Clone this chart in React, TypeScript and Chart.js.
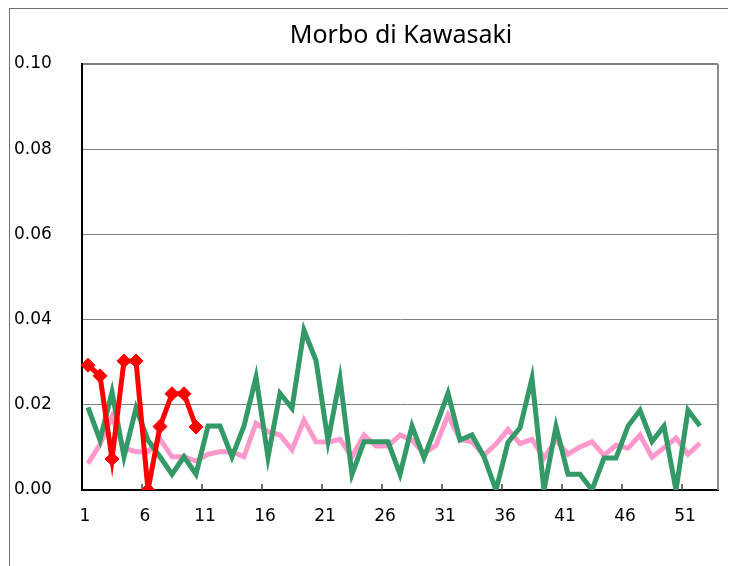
import React, { useEffect, useRef } from "react";
import { Chart, registerables } from "chart.js";

Chart.register(...registerables);

const TITLE = "Morbo di Kawasaki";
const WEEKS: string[] = Array.from({ length: 53 }, (_, i) => String(i + 1));
const Y_TICKS = [0, 0.02, 0.04, 0.06, 0.08, 0.1];

const CURRENT_SEASON: (number | null)[] = [
  0.0293, 0.0268, 0.0073, 0.0303, 0.0303, 0, 0.0149, 0.0226, 0.0226, 0.0148,
];

const PREV_SEASON: number[] = [
  0.0194, 0.0117, 0.023, 0.0078, 0.0192, 0.0117, 0.0078, 0.0037, 0.0078, 0.0037,
  0.015, 0.015, 0.0078, 0.015, 0.0265, 0.0077, 0.0227, 0.0192, 0.0375, 0.0304,
  0.0115, 0.0262, 0.0037, 0.0113, 0.0113, 0.0113, 0.0037, 0.015, 0.0076, 0.015,
  0.0227, 0.0117, 0.0129, 0.0078, 0, 0.0112, 0.0146, 0.0262, 0, 0.0149,
  0.0037, 0.0037, 0, 0.0075, 0.0075, 0.015, 0.0187, 0.0114, 0.015, 0,
  0.0187, 0.015,
];

const AVERAGE: number[] = [
  0.0062, 0.0107, 0.0172, 0.0098, 0.009, 0.009, 0.012, 0.0078, 0.0078, 0.0068,
  0.0084, 0.009, 0.009, 0.0078, 0.0157, 0.0137, 0.0129, 0.0094, 0.0164, 0.0113,
  0.0112, 0.0119, 0.0078, 0.0129, 0.0103, 0.0103, 0.0129, 0.0117, 0.0086, 0.0105,
  0.0176, 0.0119, 0.0113, 0.0082, 0.0108, 0.0142, 0.0109, 0.0119, 0.0075, 0.0117,
  0.0084, 0.0101, 0.0113, 0.0082, 0.0105, 0.0098, 0.0129, 0.0077, 0.0099, 0.0122,
  0.0084, 0.011,
];

const W = 778;
const H = 600;

const framePlugin = {
  id: "frame",
  beforeDatasetsDraw(chart: any) {
    const { ctx, chartArea } = chart;
    const x = chart.scales.x;
    ctx.save();
    ctx.strokeStyle = "#8c8c8c";
    ctx.lineWidth = 2;
    ctx.beginPath();
    ctx.moveTo(chartArea.right, chartArea.top);
    ctx.lineTo(chartArea.right, chartArea.bottom);
    ctx.stroke();
    ctx.strokeStyle = "#404040";
    ctx.lineWidth = 1.5;
    for (let k = 5; k < WEEKS.length; k += 5) {
      const px = Math.round(x.getPixelForValue(k - 0.5));
      ctx.beginPath();
      ctx.moveTo(px, chartArea.bottom);
      ctx.lineTo(px, chartArea.bottom - 6);
      ctx.stroke();
    }
    ctx.restore();
  },
};

export default function App() {
  const ref = useRef<HTMLCanvasElement | null>(null);

  useEffect(() => {
    if (!ref.current) return;
    const chart = new Chart(ref.current, {
      type: "line",
      data: {
        labels: WEEKS,
        datasets: [
          {
            label: "current",
            data: CURRENT_SEASON,
            borderColor: "#ff0000",
            backgroundColor: "#ff0000",
            borderWidth: 5,
            pointStyle: "rectRot",
            pointRadius: 7,
            pointBorderWidth: 1,
            tension: 0,
          },
          {
            label: "previous",
            data: PREV_SEASON,
            borderColor: "#339966",
            backgroundColor: "#339966",
            borderWidth: 5,
            pointRadius: 0,
            tension: 0,
          },
          {
            label: "average",
            data: AVERAGE,
            borderColor: "#ff99cc",
            backgroundColor: "#ff99cc",
            borderWidth: 5,
            pointRadius: 0,
            tension: 0,
          },
        ],
      },
      options: {
        responsive: false,
        animation: false,
        devicePixelRatio: 1,
        layout: { padding: { left: 4, right: 0, top: 0, bottom: 0 } },
        plugins: {
          legend: { display: false },
          tooltip: { enabled: false },
          title: {
            display: true,
            text: TITLE,
            color: "#000",
            font: { family: "Noto Sans", size: 25, weight: "normal" },
            padding: { top: 12, bottom: 13 },
          },
        },
        scales: {
          x: {
            type: "category",
            offset: true,
            grid: { display: false, drawTicks: false },
            border: { display: true, color: "#000", width: 2 },
            ticks: {
              autoSkip: false,
              maxRotation: 0,
              minRotation: 0,
              padding: 16,
              labelOffset: -3,
              color: "#000",
              font: { family: "DejaVu Sans", size: 17 },
              callback: (_v: any, i: number) => (i % 5 === 0 ? WEEKS[i] : ""),
            },
            afterFit: (s: any) => {
              s.height = H - 481;
            },
          },
          y: {
            min: 0,
            max: 0.1,
            afterBuildTicks: (s: any) => {
              s.ticks = Y_TICKS.map((v) => ({ value: v }));
            },
            grid: {
              drawTicks: false,
              color: (c: any) => (c.tick && c.tick.value === 0 ? "rgba(0,0,0,0)" : "#808080"),
              lineWidth: (c: any) => (c.tick && c.tick.value >= 0.1 ? 2 : 1),
            },
            border: { display: true, color: "#000", width: 2 },
            ticks: {
              crossAlign: "far",
              padding: 0,
              color: "#000",
              font: { family: "DejaVu Sans", size: 17 },
              callback: (v: any) => Number(v).toFixed(2),
            },
            afterFit: (s: any) => {
              s.width = 68;
            },
          },
          spacer: {
            type: "linear",
            position: "right",
            display: true,
            grid: { display: false, drawTicks: false },
            border: { display: false },
            ticks: { display: false },
            afterFit: (s: any) => {
              s.width = W - 708;
            },
          },
        },
      },
      plugins: [framePlugin],
    });
    return () => chart.destroy();
  }, []);

  return (
    <div style={{ width: 728, height: 558, overflow: "hidden" }}>
      <div
        style={{
          width: W,
          height: H,
          marginLeft: 1,
          borderLeft: "1px solid #707070",
          borderTop: "1px solid #707070",
        }}
      >
        <canvas ref={ref} width={W} height={H} style={{ display: "block", width: W, height: H }} />
      </div>
    </div>
  );
}
